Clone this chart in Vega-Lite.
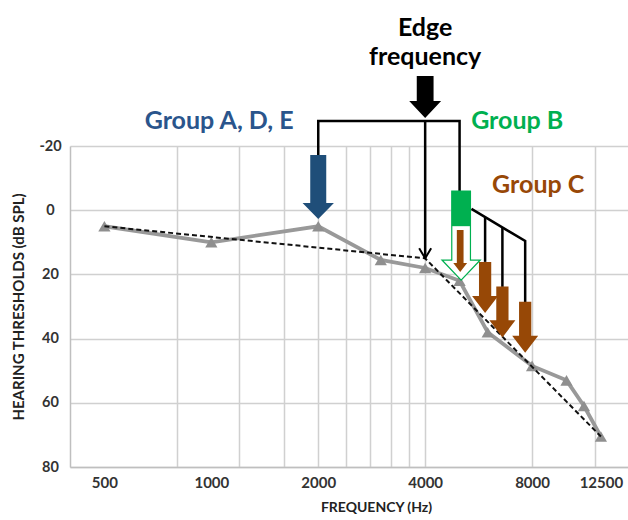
{
  "$schema": "https://vega.github.io/schema/vega-lite/v6.json",
  "width": 558,
  "height": 321,
  "autosize": {"type": "none"},
  "padding": {"left": 70, "top": 146, "right": 0, "bottom": 53},
  "background": "white",
  "config": {"view": {"stroke": null}, "font": "Lato"},
  "datasets": {
    "audiogram": [
      {"freq": 500, "db": 5},
      {"freq": 1000, "db": 10},
      {"freq": 2000, "db": 5},
      {"freq": 3000, "db": 15.5},
      {"freq": 4000, "db": 18},
      {"freq": 5000, "db": 22},
      {"freq": 6000, "db": 38},
      {"freq": 8000, "db": 48.5},
      {"freq": 10000, "db": 53},
      {"freq": 11200, "db": 61},
      {"freq": 12500, "db": 70.5}
    ],
    "trend": [
      {"freq": 500, "db": 5},
      {"freq": 4000, "db": 15},
      {"freq": 12500, "db": 70.5}
    ],
    "connectors": [
      {"seg": "bracket", "ord": 0, "freq": 2000, "db": -17.2},
      {"seg": "bracket", "ord": 1, "freq": 2000, "db": -27.8},
      {"seg": "bracket", "ord": 2, "freq": 5000, "db": -27.8},
      {"seg": "bracket", "ord": 3, "freq": 5000, "db": -5.7},
      {"seg": "edge", "ord": 0, "freq": 4000, "db": -27.8},
      {"seg": "edge", "ord": 1, "freq": 4000, "db": 15},
      {"seg": "diag", "ord": 0, "freq": 5400, "db": -0.4},
      {"seg": "diag", "ord": 1, "freq": 7650, "db": 9.6},
      {"seg": "diag", "ord": 2, "freq": 7650, "db": 28.6},
      {"seg": "v1", "ord": 0, "freq": 5900, "db": 2.2},
      {"seg": "v1", "ord": 1, "freq": 5900, "db": 16.1},
      {"seg": "v2", "ord": 0, "freq": 6600, "db": 5.4},
      {"seg": "v2", "ord": 1, "freq": 6600, "db": 23.9}
    ],
    "arrows": [
      {"arrow": "blue", "freq": 2000, "db": -7.2},
      {"arrow": "black", "freq": 4000, "db": -35.3},
      {"arrow": "green", "freq": 5050, "db": 7.9},
      {"arrow": "small", "freq": 5020, "db": 12.7},
      {"arrow": "brown", "freq": 5900, "db": 24.1},
      {"arrow": "brown", "freq": 6600, "db": 31.7},
      {"arrow": "brown", "freq": 7650, "db": 36.5},
      {"arrow": "tip", "freq": 4000, "db": 15}
    ],
    "labels": [
      {"label": "Edge", "grp": "edge", "freq": 4000, "db": -54.3},
      {"label": "frequency", "grp": "edge", "freq": 4000, "db": -45.2},
      {"label": "Group A, D, E", "grp": "ade", "freq": 1052, "db": -25.2},
      {"label": "Group B", "grp": "b", "freq": 7265, "db": -25.2},
      {"label": "Group C", "grp": "c", "freq": 8325, "db": -5.3}
    ]
  },
  "encoding": {
    "x": {
      "field": "freq",
      "type": "quantitative",
      "scale": {"type": "log", "domain": [400, 14900], "nice": false},
      "axis": {
        "values": [500, 800, 1000, 1200, 1600, 2000, 2400, 2800, 3200, 3600, 4000, 8000, 12000, 12500],
        "labelExpr": "indexof([500,1000,2000,4000,8000,12500], datum.value) >= 0 ? format(datum.value, 'd') : ''",
        "gridOpacity": {"condition": {"test": "indexof([800,1200,1600,2000,2400,2800,3200,3600,4000,8000,12000], datum.value) >= 0", "value": 1}, "value": 0},
        "ticks": false,
        "tickSize": 0,
        "labelOverlap": false,
        "labelFlush": false,
        "labelPadding": 8,
        "labelFontSize": 15,
        "labelFontWeight": "bold",
        "labelColor": "#333333",
        "labelFont": "Lato",
        "domainColor": "#bfbfbf",
        "domainWidth": 1.5,
        "gridColor": "#d0d0d0",
        "gridWidth": 1.5,
        "title": "FREQUENCY (Hz)",
        "titleFont": "Lato",
        "titleFontSize": 14,
        "titleFontWeight": "bold",
        "titleColor": "#222222",
        "titlePadding": 10,
        "titleX": 306
      }
    },
    "y": {
      "field": "db",
      "type": "quantitative",
      "scale": {"domain": [-20, 80], "reverse": true, "nice": false, "zero": false},
      "axis": {
        "values": [-20, 0, 20, 40, 60, 80],
        "labelExpr": "datum.value < 0 ? '-' + abs(datum.value) : '' + datum.value",
        "ticks": false,
        "tickSize": 0,
        "labelAlign": "center",
        "labelPadding": 20,
        "labelFontSize": 14.5,
        "labelFontWeight": "bold",
        "labelColor": "#333333",
        "labelFont": "Lato",
        "domainColor": "#bfbfbf",
        "domainWidth": 1.5,
        "gridColor": "#d0d0d0",
        "gridWidth": 1.5,
        "title": "HEARING THRESHOLDS (dB SPL)",
        "titleFont": "Lato",
        "titleFontSize": 15,
        "titleFontWeight": "bold",
        "titleColor": "#222222",
        "titlePadding": 12
      }
    }
  },
  "layer": [
    {
      "data": {"name": "audiogram"},
      "mark": {"type": "line", "color": "#999999", "strokeWidth": 3.8},
      "encoding": {}
    },
    {
      "data": {"name": "audiogram"},
      "mark": {"type": "point", "shape": "triangle-up", "size": 150, "filled": true, "color": "#8f8f8f", "opacity": 1}
    },
    {
      "data": {"name": "trend"},
      "mark": {"type": "line", "color": "#111111", "strokeWidth": 2, "strokeDash": [5, 3]},
      "encoding": {}
    },
    {
      "data": {"name": "connectors"},
      "mark": {"type": "line", "color": "#000000", "strokeWidth": 2.5},
      "encoding": {
        "detail": {"field": "seg", "type": "nominal"},
        "order": {"field": "ord", "type": "quantitative"}
      }
    },
    {
      "data": {"name": "arrows"},
      "transform": [{"filter": "datum.arrow == 'tip'"}],
      "mark": {"type": "point", "shape": "M-1,-1.7L0,0L1,-1.7", "size": 144, "filled": false, "color": "#000000", "strokeWidth": 2, "opacity": 1}
    },
    {
      "data": {"name": "arrows"},
      "transform": [{"filter": "datum.arrow == 'blue'"}],
      "mark": {"type": "point", "shape": "M-0.25,-1L0.25,-1L0.25,0.5L0.49,0.5L0,1L-0.49,0.5L-0.25,0.5Z", "size": 4096, "filled": true, "color": "#1F4E79", "opacity": 1}
    },
    {
      "data": {"name": "arrows"},
      "transform": [{"filter": "datum.arrow == 'black'"}],
      "mark": {"type": "point", "shape": "M-0.4,-1L0.4,-1L0.4,0.2L0.76,0.2L0,1L-0.76,0.2L-0.4,0.2Z", "size": 1764, "filled": true, "color": "#000000", "opacity": 1}
    },
    {
      "data": {"name": "arrows"},
      "transform": [{"filter": "datum.arrow == 'green'"}],
      "mark": {
        "type": "point",
        "shape": "M-0.21,-1L0.21,-1L0.21,0.55L0.43,0.55L0,1L-0.43,0.55L-0.21,0.55Z",
        "size": 7921,
        "filled": true,
        "opacity": 1,
        "fill": {"gradient": "linear", "x1": 0, "y1": 0, "x2": 0, "y2": 1, "stops": [
          {"offset": 0, "color": "#00B050"},
          {"offset": 0.39, "color": "#00B050"},
          {"offset": 0.4, "color": "#ffffff"},
          {"offset": 1, "color": "#ffffff"}
        ]},
        "stroke": "#00B050",
        "strokeWidth": 1.2
      }
    },
    {
      "data": {"name": "arrows"},
      "transform": [{"filter": "datum.arrow == 'small'"}],
      "mark": {"type": "point", "shape": "M-0.16,-1L0.16,-1L0.16,0.57L0.33,0.57L0,1L-0.33,0.57L-0.16,0.57Z", "size": 1764, "filled": true, "color": "#974806", "opacity": 1}
    },
    {
      "data": {"name": "arrows"},
      "transform": [{"filter": "datum.arrow == 'brown'"}],
      "mark": {"type": "point", "shape": "M-0.24,-1L0.24,-1L0.24,0.33L0.51,0.33L0,1L-0.51,0.33L-0.24,0.33Z", "size": 2601, "filled": true, "color": "#974806", "opacity": 1}
    },
    {
      "data": {"name": "labels"},
      "mark": {"type": "text", "font": "Lato", "fontWeight": "bold", "fontSize": 25, "align": "center", "baseline": "alphabetic"},
      "encoding": {
        "text": {"field": "label", "type": "nominal"},
        "color": {
          "field": "grp",
          "type": "nominal",
          "scale": {"domain": ["edge", "ade", "b", "c"], "range": ["#000000", "#2A558C", "#00B050", "#984807"]},
          "legend": null
        }
      }
    }
  ]
}
